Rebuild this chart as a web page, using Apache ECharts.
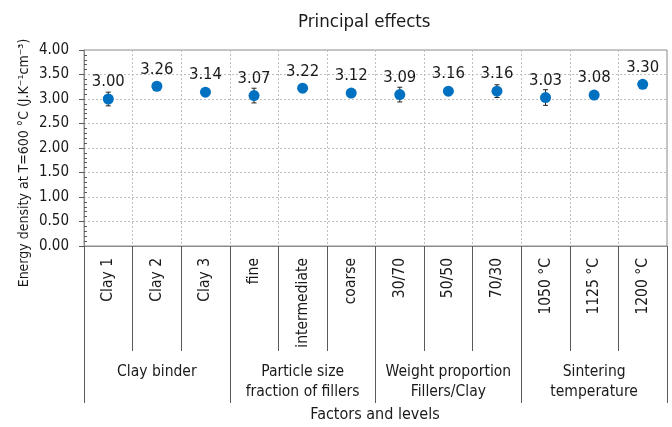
<!DOCTYPE html>
<html>
<head>
<meta charset="utf-8">
<script src="https://cdn.jsdelivr.net/npm/echarts@6/dist/echarts.min.js"></script>
<style>
  html, body { margin: 0; padding: 0; background: #fff; }
  #chart { width: 672px; height: 427px; }
</style>
</head>
<body>
<div id="chart"></div>
<script>
const FONT = '"DejaVu Sans Condensed", "DejaVu Sans", sans-serif';

// levels and their factor groups
const levels = ['Clay 1', 'Clay 2', 'Clay 3', 'fine', 'intermediate', 'coarse',
    '30/70', '50/50', '70/30', '1050 °C', '1125 °C', '1200 °C'];
const groups = ['Clay binder', 'Particle size\nfraction of fillers',
    'Weight proportion\nFillers/Clay', 'Sintering\ntemperature'];

// mean energy density per level and half-width of error bars
const means = [3.00, 3.26, 3.14, 3.07, 3.22, 3.12, 3.09, 3.16, 3.16, 3.03, 3.08, 3.30];
const errors = [0.14, 0.05, 0.04, 0.15, 0.08, 0.02, 0.15, 0.02, 0.13, 0.16, 0.06, 0.02];

const chart = echarts.init(document.getElementById('chart'), null, { renderer: 'canvas' });

const errData = means.map((m, i) => [i, m - errors[i], m + errors[i]]);

const option = {
    animation: false,
    textStyle: { fontFamily: FONT },
    title: {
        text: 'Principal effects',
        left: 293,
        top: 8,
        textStyle: { fontFamily: FONT, fontSize: 18.5, fontWeight: 'normal', color: '#1a1a1a' }
    },
    grid: {
        left: 84, right: 5, top: 50, bottom: 181,
        show: true, borderColor: '#8c8c8c', borderWidth: 1
    },
    xAxis: [
        {
            type: 'category',
            data: levels,
            position: 'bottom',
            axisLine: { show: true, lineStyle: { color: '#8c8c8c' } },
            axisTick: { show: true, length: 105, lineStyle: { color: '#595959' } },
            axisLabel: {
                interval: 0, rotate: 90, margin: 12,
                fontFamily: FONT, fontSize: 15.5, color: '#1a1a1a'
            },
            splitLine: { show: true, lineStyle: { color: '#bfbfbf', type: [2, 2] } }
        },
        {
            type: 'category',
            data: groups,
            position: 'bottom',
            axisLine: { show: false },
            axisTick: { show: true, length: 157, lineStyle: { color: '#595959' } },
            axisLabel: {
                interval: 0, margin: 116, lineHeight: 20, verticalAlign: 'top',
                fontFamily: FONT, fontSize: 15.5, color: '#1a1a1a'
            },
            splitLine: { show: false }
        }
    ],
    yAxis: [
        {
            type: 'value',
            min: 0, max: 4, interval: 0.5,
            axisLine: { show: true, lineStyle: { color: '#8c8c8c' } },
            axisTick: { show: true, length: 5, lineStyle: { color: '#595959' } },
            axisLabel: {
                margin: 15, fontFamily: FONT, fontSize: 15, color: '#1a1a1a',
                formatter: v => v.toFixed(2)
            },
            splitLine: { show: true, lineStyle: { color: '#bfbfbf', type: [2, 2] } }
        },
        {
            // minor ticks sit inside the plot, so a second axis is shifted right
            type: 'value',
            min: 0, max: 4, interval: 0.5,
            position: 'left',
            offset: -3,
            axisLine: { show: false },
            axisTick: { show: false },
            minorTick: { show: true, splitNumber: 5, length: 3, lineStyle: { color: '#595959' } },
            axisLabel: { show: false },
            splitLine: { show: false }
        }
    ],
    graphic: [
        {
            type: 'text',
            x: 24, y: 163,
            rotation: Math.PI / 2,
            style: {
                text: 'Energy density at T=600 °C (J.K⁻¹cm⁻³)',
                font: '14px ' + FONT,
                fill: '#1a1a1a',
                align: 'center',
                verticalAlign: 'middle'
            }
        },
        {
            type: 'text',
            x: 375, y: 415,
            style: {
                text: 'Factors and levels',
                font: '16px ' + FONT,
                fill: '#1a1a1a',
                align: 'center',
                verticalAlign: 'middle'
            }
        }
    ],
    series: [
        {
            type: 'custom',
            name: 'error',
            xAxisIndex: 0,
            yAxisIndex: 0,
            data: errData,
            z: 2,
            renderItem(params, api) {
                const lo = api.coord([api.value(0), api.value(1)]);
                const hi = api.coord([api.value(0), api.value(2)]);
                const cap = 2.5;
                const style = { stroke: '#222', lineWidth: 1 };
                return {
                    type: 'group',
                    children: [
                        { type: 'line', shape: { x1: lo[0], y1: lo[1], x2: hi[0], y2: hi[1] }, style },
                        { type: 'line', shape: { x1: lo[0] - cap, y1: lo[1], x2: lo[0] + cap, y2: lo[1] }, style },
                        { type: 'line', shape: { x1: hi[0] - cap, y1: hi[1], x2: hi[0] + cap, y2: hi[1] }, style }
                    ]
                };
            }
        },
        {
            type: 'scatter',
            name: 'mean',
            xAxisIndex: 0,
            yAxisIndex: 0,
            data: means,
            z: 3,
            symbol: 'circle',
            symbolSize: 11,
            itemStyle: { color: '#0070c0', opacity: 1 },
            label: {
                show: true,
                position: 'top',
                distance: 3,
                fontFamily: FONT,
                fontSize: 16.5,
                color: '#1a1a1a',
                formatter: p => p.value.toFixed(2)
            }
        }
    ]
};

chart.setOption(option);
</script>
</body>
</html>
